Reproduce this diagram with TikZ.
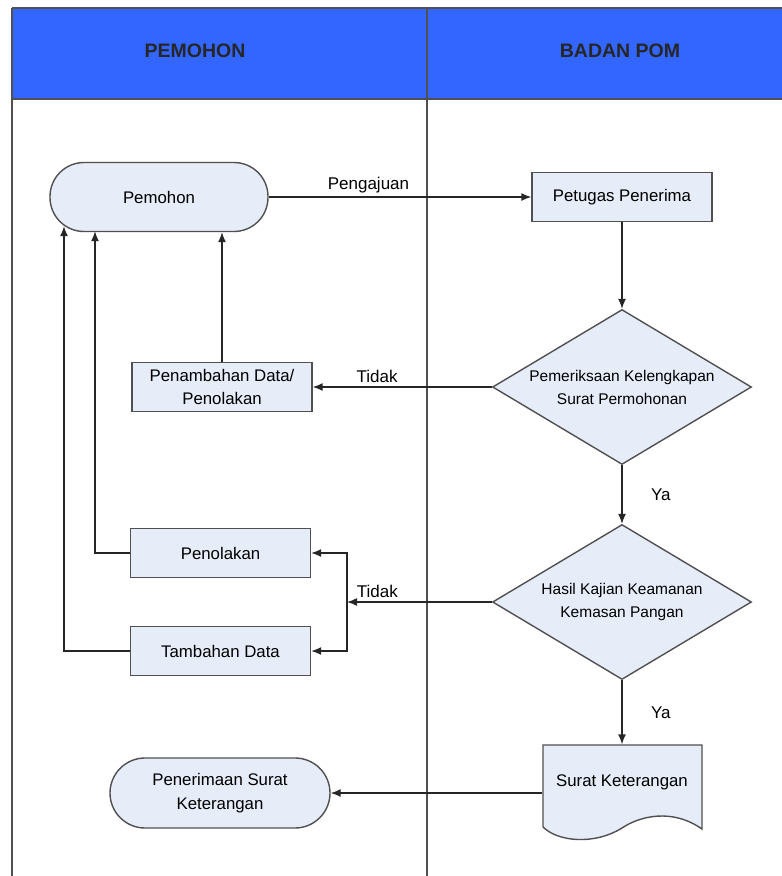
\documentclass[tikz,border=0pt]{standalone}
\usepackage{fontspec}
\setmainfont{Liberation Sans}
\usetikzlibrary{arrows.meta,shapes.geometric}
\definecolor{hdrblue}{RGB}{51,102,255}
\definecolor{boxfill}{RGB}{230,236,248}
\definecolor{linegray}{RGB}{80,80,80}

\begin{document}
\begin{tikzpicture}[x=1pt,y=-1pt,line width=1.4pt,>={Latex[length=10pt,width=8pt]}]

\tikzstyle{hd} = [font=\fontsize{19.5}{22}\selectfont\bfseries, text=black!85]
\tikzstyle{tm} = [rectangle, rounded corners=34pt, minimum width=218pt, minimum height=69pt, align=center, draw=linegray, fill=boxfill, font=\fontsize{16.8}{24}\selectfont]
\tikzstyle{sq} = [rectangle, minimum width=180pt, minimum height=49pt, align=center, draw=linegray, fill=boxfill, font=\fontsize{16.8}{23}\selectfont]
\tikzstyle{dm} = [diamond, aspect=1.67, inner sep=0pt, minimum width=259pt, minimum height=155pt, align=center, draw=linegray, fill=boxfill, font=\fontsize{15.5}{23}\selectfont]
\tikzstyle{lb} = [font=\fontsize{17}{20}\selectfont]
\tikzstyle{ar} = [->, draw=black!85]

\useasboundingbox (0,0) rectangle (782,876);
% lanes
\fill[hdrblue] (12,8) rectangle (790,99);
\draw[linegray] (12,8) -- (790,8);
\draw[linegray] (12,99) -- (790,99);
\draw[linegray] (12,8) -- (12,880);
\draw[linegray] (427,8) -- (427,880);
\node (lane1) [hd] at (195,51) {PEMOHON};
\node (lane2) [hd] at (620,51) {BADAN POM};

% surat keterangan sheet
\draw[linegray, fill=boxfill] (543,745) -- (702,745) -- (702,829) .. controls (672,808) and (640,816) .. (622,828) .. controls (595,845) and (558,842) .. (543,827) -- cycle;

\node (pemohon) [tm] at (159,197) {Pemohon};
\node (petugas) [sq] at (622,197) {Petugas Penerima};
\node (cek) [dm, below of=petugas, node distance=190pt] {Pemeriksaan Kelengkapan\\Surat Permohonan};
\node (kajian) [dm, below of=cek, node distance=215pt] {Hasil Kajian Keamanan\\Kemasan Pangan};
\node (surat) [sq, draw=none, fill=none, minimum width=159pt, minimum height=74pt, below of=kajian, node distance=180pt] {Surat Keterangan};
\node (penambahan) [sq] at (222,387) {Penambahan Data/\\Penolakan};
\node (penolakan) [sq] at (220.5,553) {Penolakan};
\node (tambahan) [sq] at (220.5,651) {Tambahan Data};
\node (penerimaan) [tm, minimum width=220pt, minimum height=70pt, rounded corners=35pt] at (220,793) {Penerimaan Surat\\Keterangan};
\coordinate (cabang) at (347,602);

\draw[ar] (pemohon) -- (petugas) node[lb, pos=0.38, above] {Pengajuan};
\draw[ar] (petugas) -- (cek);
\draw[ar] (cek) -- (penambahan) node[lb, pos=0.64, above] {Tidak};
\draw[ar] (penambahan.north) -- (penambahan.north |- pemohon.south);
\draw[ar] (cek) -- (kajian) node[lb, midway, right=25pt] {Ya};
\draw[ar] (kajian) -- (cabang) node[lb, pos=0.79, above] {Tidak};
\draw[ar] (cabang) |- (penolakan);
\draw[ar] (cabang) |- (tambahan);
\draw[ar] (penolakan) -| ([xshift=-64pt,yshift=1pt]pemohon.south);
\draw[ar] (tambahan) -| ([xshift=-95pt,yshift=6pt]pemohon.south);
\draw[ar] (kajian) -- (surat) node[lb, midway, right=25pt] {Ya};
\draw[ar] (surat.west |- penerimaan) -- (penerimaan);
\end{tikzpicture}
\end{document}
